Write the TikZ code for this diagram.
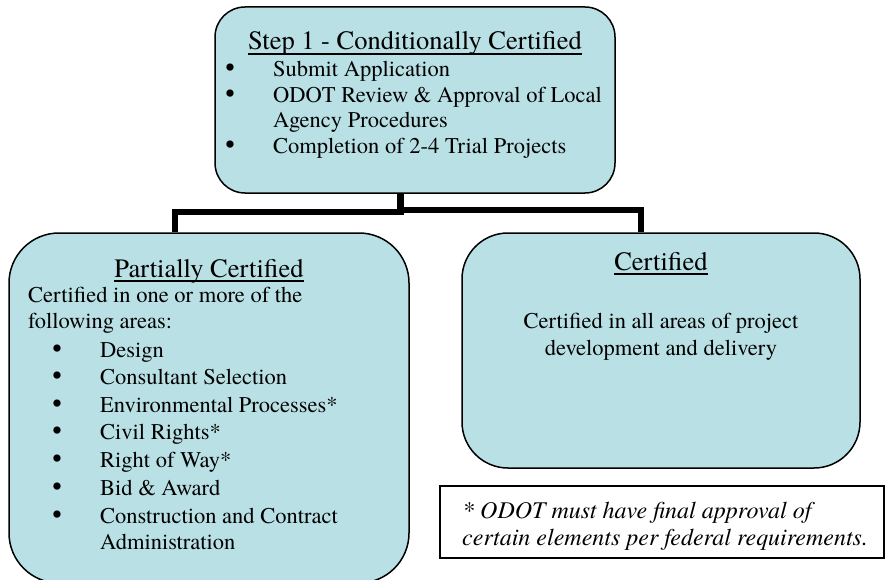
\documentclass[tikz,border=0pt]{standalone}
\usepackage{fontspec}
\setmainfont{texgyretermes}[Extension=.otf,UprightFont=*-regular,ItalicFont=*-italic,BoldFont=*-bold,BoldItalicFont=*-bolditalic]
\definecolor{boxfill}{RGB}{185,224,228}
\newcommand\bulgap[1]{\llap{\makebox[0pt][c]{\fontsize{27}{27}\selectfont •}\hspace*{#1}}}
\begin{document}
\begin{tikzpicture}[x=1pt,y=-1pt,
  cbox/.style={draw=black,line width=1.5pt,fill=boxfill,inner sep=0pt},
  txt/.style={anchor=base west,inner sep=0pt,font=\fontsize{22.5}{27}\selectfont},
  ctxt/.style={anchor=base,inner sep=0pt,font=\fontsize{22.5}{27}\selectfont},
  ttl/.style={anchor=base,inner sep=0pt,font=\fontsize{26.5}{30}\selectfont},
  ntxt/.style={anchor=base west,inner sep=0pt,font=\fontsize{24}{28}\selectfont\itshape},
  conn/.style={line width=6pt,line join=miter},
  uline/.style={line width=1.4pt}]
\useasboundingbox (0,0) rectangle (885,580);
\clip (0,0) rectangle (885,580);
% boxes
\node[cbox,rounded corners=30pt,minimum width=400pt,minimum height=186pt] (top) at (415,100) {};
\node[cbox,rounded corners=50pt,minimum width=400pt,minimum height=350pt] (pc) at (209,408) {};
\node[cbox,rounded corners=46pt,minimum width=398pt,minimum height=235pt] (cc) at (661,350.5) {};
\node[draw=black,line width=2pt,minimum width=444pt,minimum height=72pt,inner sep=0pt] (note) at (662,522) {};
% connectors
\coordinate (j) at (400,212);
\coordinate (jr) at (400,210);
\coordinate (al) at (175,212);
\coordinate (ar) at (641,210);
\draw[conn,line width=7pt] (top.south -| j) -- ([yshift=-3pt]j);
\draw[conn] (j) -- (al) -- (al |- pc.north);
\draw[conn] (jr) -- (ar) -- (ar |- cc.north);
% top box text
\node[ttl] (t1) at (415,50) {Step 1 - Conditionally Certified};
\draw[uline] ([yshift=-4pt]t1.base west) -- ([yshift=-4pt]t1.base east);
\node[txt] (ts1) at (273,77) {\bulgap{43pt}Submit Application};
\node[txt] (ts2) at (273,103) {\bulgap{43pt}ODOT Review \& Approval of Local};
\node[txt] (ts2b) at (273,128) {Agency Procedures};
\node[txt] (ts3) at (273,154) {\bulgap{43pt}Completion of 2-4 Trial Projects};
% partially certified
\node[ttl] (t2) at (209,277) {Partially Certified};
\draw[uline] ([yshift=-4pt]t2.base west) -- ([yshift=-4pt]t2.base east);
\node[txt] (p0) at (28,302) {Certified in one or more of the};
\node[txt] (p0b) at (28,328) {following areas:};
\node[txt] (p1) at (100,357) {\bulgap{43pt}Design};
\node[txt] (p2) at (100,384) {\bulgap{43pt}Consultant Selection};
\node[txt] (p3) at (100,412) {\bulgap{43pt}Environmental Processes*};
\node[txt] (p4) at (100,439) {\bulgap{43pt}Civil Rights*};
\node[txt] (p5) at (100,467) {\bulgap{43pt}Right of Way*};
\node[txt] (p6) at (100,495) {\bulgap{43pt}Bid \& Award};
\node[txt] (p7) at (100,523) {\bulgap{43pt}Construction and Contract};
\node[txt] (p7b) at (100,549) {Administration};
% certified
\node[ttl] (t3) at (661,270) {Certified};
\draw[uline] ([yshift=-4pt]t3.base west) -- ([yshift=-4pt]t3.base east);
\node[ctxt] (c1) at (661,328) {Certified in all areas of project};
\node[ctxt] (c2) at (661,355) {development and delivery};
% note
\begin{scope}
\clip (440,486) rectangle (884,549);
\node[ntxt] (n1) at (462,518) {* ODOT must have final approval of};
\node[ntxt] (n2) at (462,545) {certain elements per federal requirements.};
\end{scope}
\end{tikzpicture}
\end{document}
